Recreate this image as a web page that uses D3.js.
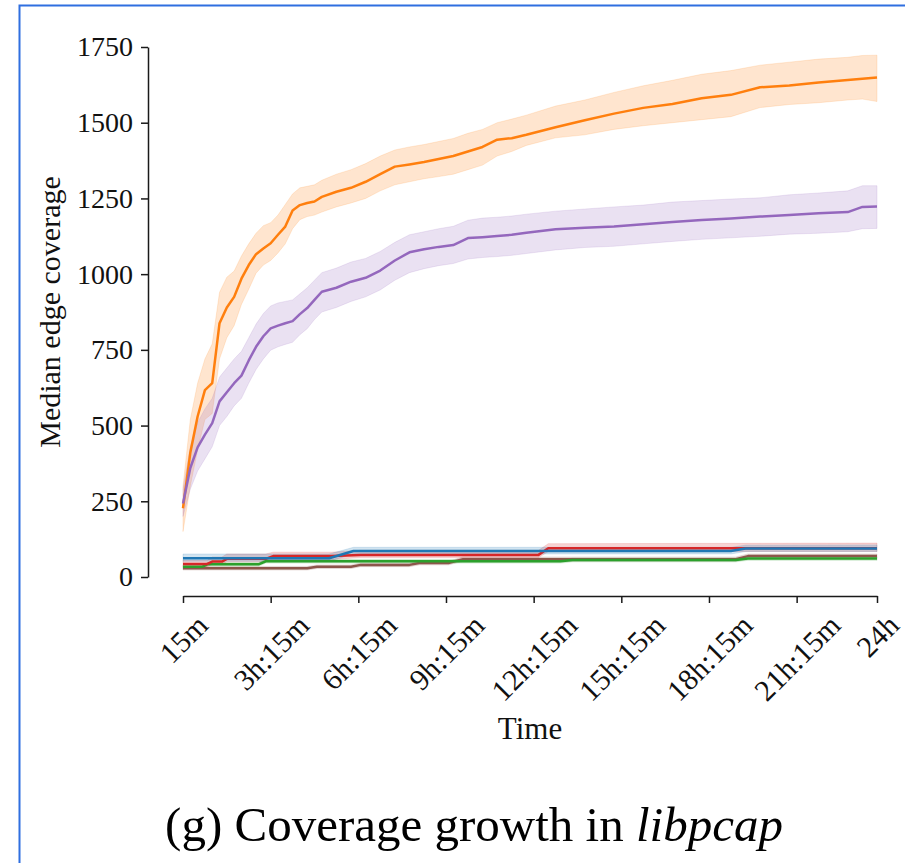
<!DOCTYPE html>
<html>
<head>
<meta charset="utf-8">
<script src="https://cdn.jsdelivr.net/npm/d3@7"></script>
<style>
    html, body { margin: 0; padding: 0; background: #fff; }
    #chart svg { display: block; }
</style>
</head>
<body>
<div id="chart"></div>
<script>
// time grid (minutes since start) for the two big series
var times = [15, 30, 45, 60, 75, 90, 105, 120, 135, 150, 165, 180, 195, 210, 225, 240, 255, 270, 285, 300,
    330, 360, 390, 420, 450, 480, 510, 540, 570, 600, 630, 660, 690, 720, 780, 840, 900, 960, 1020, 1080,
    1140, 1200, 1260, 1320, 1380, 1410, 1440];

var orangeMed = [227, 410, 530, 617, 640, 838, 890, 925, 985, 1030, 1066, 1085, 1102, 1130, 1157, 1210, 1228, 1235, 1240, 1255,
    1272, 1285, 1305, 1330, 1355, 1362, 1370, 1380, 1390, 1405, 1420, 1444, 1449, 1460, 1485, 1508, 1530, 1549, 1562, 1581,
    1592, 1617, 1623, 1633, 1641, 1645, 1649];
var orangeHi = [300, 520, 640, 720, 770, 940, 990, 1010, 1060, 1100, 1135, 1160, 1170, 1195, 1230, 1265, 1285, 1290, 1295, 1310,
    1330, 1345, 1365, 1390, 1410, 1420, 1428, 1438, 1448, 1465, 1478, 1500, 1512, 1525, 1555, 1575, 1600, 1622, 1640, 1660,
    1672, 1690, 1700, 1710, 1716, 1722, 1723];
var orangeLo = [150, 300, 420, 520, 540, 720, 790, 830, 900, 950, 1003, 1030, 1045, 1070, 1100, 1150, 1180, 1190, 1195, 1205,
    1222, 1235, 1250, 1275, 1295, 1305, 1315, 1322, 1330, 1345, 1360, 1390, 1405, 1425, 1450, 1460, 1478, 1490, 1500, 1510,
    1520, 1550, 1560, 1566, 1575, 1578, 1570];

var purpleMed = [243, 360, 428, 470, 508, 580, 610, 640, 665, 715, 760, 795, 821, 830, 838, 845, 868, 888, 915, 942,
    955, 975, 988, 1012, 1045, 1072, 1082, 1090, 1096, 1119, 1122, 1126, 1130, 1137, 1148, 1153, 1157, 1165, 1172, 1179,
    1184, 1190, 1195, 1201, 1205, 1222, 1223];
var purpleHi = [290, 430, 510, 555, 590, 660, 690, 720, 745, 790, 835, 870, 895, 905, 910, 915, 935, 955, 980, 1005,
    1020, 1040, 1052, 1075, 1105, 1130, 1140, 1150, 1158, 1178, 1185, 1188, 1192, 1198, 1208, 1215, 1222, 1228, 1238, 1243,
    1248, 1252, 1262, 1268, 1275, 1292, 1292];
var purpleLo = [200, 290, 350, 390, 430, 500, 530, 565, 590, 640, 685, 720, 749, 760, 768, 775, 800, 820, 850, 875,
    890, 910, 925, 948, 980, 1005, 1018, 1028, 1035, 1050, 1055, 1058, 1062, 1068, 1080, 1088, 1092, 1100, 1108, 1115,
    1120, 1125, 1132, 1135, 1140, 1150, 1151];

// step-like low series, each with its own change points
var blueT = [15, 315, 365, 1140, 1170, 1440];
var blueMed = [62, 62, 86, 86, 94, 94];
var blueHi = [76, 76, 98, 98, 105, 106];
var blueLo = [52, 52, 76, 76, 84, 84];

var redT = [15, 65, 75, 95, 105, 185, 200, 320, 380, 745, 765, 1440];
var redMed = [43, 43, 51, 51, 60, 60, 69, 69, 73, 73, 95, 95];
var redHi = [55, 55, 66, 66, 76, 76, 82, 82, 88, 88, 110, 112];
var redLo = [34, 34, 42, 42, 50, 50, 58, 58, 64, 64, 84, 84];

var greenT = [15, 55, 65, 170, 185, 790, 815, 1150, 1175, 1440];
var greenMed = [34, 34, 42, 42, 52, 52, 56, 56, 61, 61];
var greenHi = [40, 40, 48, 48, 58, 58, 62, 62, 67, 67];
var greenLo = [28, 28, 36, 36, 46, 46, 50, 50, 55, 55];

var brownT = [15, 270, 290, 360, 380, 480, 500, 560, 590, 1150, 1175, 1440];
var brownMed = [29, 29, 34, 34, 40, 40, 46, 46, 59, 59, 69, 69];
var brownHi = [35, 35, 40, 40, 46, 46, 52, 52, 66, 66, 76, 76];
var brownLo = [23, 23, 28, 28, 34, 34, 40, 40, 52, 52, 62, 62];

var xTickValues = [15, 195, 375, 555, 735, 915, 1095, 1275, 1440];
var xTickLabels = ["15m", "3h:15m", "6h:15m", "9h:15m", "12h:15m", "15h:15m", "18h:15m", "21h:15m", "24h"];
var yTickValues = [0, 250, 500, 750, 1000, 1250, 1500, 1750];

(function(d3) {

    "use strict";

    var W = 905, H = 863;
    var serif = "'Liberation Serif', 'DejaVu Serif', serif";

    var svg = d3.select("#chart").append("svg")
        .attr("width", W)
        .attr("height", H);

    // blue frame around the figure (only left and top edges show)
    svg.append("rect")
        .attr("x", 19.5).attr("y", 5.5)
        .attr("width", 1000).attr("height", 1000)
        .attr("fill", "none")
        .attr("stroke", "#2f6fe0")
        .attr("stroke-width", 2);

    var x = d3.scaleLinear().domain([15, 1440]).range([183, 877]);
    var y = d3.scaleLinear().domain([0, 1750]).range([577, 47]);

    function pack(t, med, lo, hi) {
        return t.map(function(tt, i) { return { t: tt, m: med[i], lo: lo[i], hi: hi[i] }; });
    }

    var series = [
        { color: "#ff7f0e", data: pack(times, orangeMed, orangeLo, orangeHi) },
        { color: "#9467bd", data: pack(times, purpleMed, purpleLo, purpleHi) },
        { color: "#8c564b", data: pack(brownT, brownMed, brownLo, brownHi) },
        { color: "#2ca02c", data: pack(greenT, greenMed, greenLo, greenHi) },
        { color: "#d62728", data: pack(redT, redMed, redLo, redHi) },
        { color: "#1f77b4", data: pack(blueT, blueMed, blueLo, blueHi) }
    ];

    var area = d3.area()
        .x(function(d) { return x(d.t); })
        .y0(function(d) { return y(d.lo); })
        .y1(function(d) { return y(d.hi); });

    var line = d3.line()
        .x(function(d) { return x(d.t); })
        .y(function(d) { return y(d.m); });

    svg.append("g").selectAll("path")
        .data(series)
        .enter()
        .append("path")
        .attr("d", function(s) { return area(s.data); })
        .attr("fill", function(s) { return s.color; })
        .attr("fill-opacity", 0.2)
        .attr("stroke", function(s) { return s.color; })
        .attr("stroke-opacity", 0.15)
        .attr("stroke-width", 1);

    svg.append("g").selectAll("path")
        .data(series)
        .enter()
        .append("path")
        .attr("d", function(s) { return line(s.data); })
        .attr("fill", "none")
        .attr("stroke", function(s) { return s.color; })
        .attr("stroke-width", 2.5)
        .attr("stroke-linejoin", "round");

    // axes, despined and offset like seaborn
    var yAxis = svg.append("g")
        .attr("transform", "translate(148,0)")
        .call(d3.axisLeft(y).tickValues(yTickValues).tickSize(7).tickSizeOuter(0).tickPadding(8)
            .tickFormat(d3.format("d")));

    var xAxis = svg.append("g")
        .attr("transform", "translate(0,596)")
        .call(d3.axisBottom(x).tickValues(xTickValues).tickSize(7).tickSizeOuter(0)
            .tickFormat(function(d, i) { return xTickLabels[i]; }));

    [yAxis, xAxis].forEach(function(ax) {
        ax.selectAll("path, line").attr("stroke", "#1a1a1a").attr("stroke-width", 1.5);
        ax.selectAll("text")
            .attr("fill", "#111")
            .style("font-family", serif);
    });

    yAxis.selectAll("text").style("font-size", "28px");

    // rotated labels centred under the tick, top of their box just below it
    xAxis.selectAll("text")
        .style("font-size", "30px")
        .attr("text-anchor", "middle")
        .attr("dominant-baseline", "central")
        .attr("dy", null)
        .attr("y", null)
        .attr("transform", function() {
            var w = this.getComputedTextLength();
            var half = (w + 22) * Math.SQRT1_2 / 2;
            return "translate(0," + (16 + half) + ") rotate(-45)";
        });

    svg.append("text")
        .attr("transform", "translate(60,312) rotate(-90)")
        .attr("text-anchor", "middle")
        .style("font-family", serif)
        .style("font-size", "30px")
        .attr("fill", "#111")
        .text("Median edge coverage");

    svg.append("text")
        .attr("x", 530).attr("y", 739)
        .attr("text-anchor", "middle")
        .style("font-family", serif)
        .style("font-size", "31px")
        .attr("fill", "#111")
        .text("Time");

    var caption = svg.append("text")
        .attr("x", 474).attr("y", 841)
        .attr("text-anchor", "middle")
        .style("font-family", serif)
        .style("font-size", "49px")
        .attr("fill", "#000");
    caption.append("tspan").text("(g) Coverage growth in ");
    caption.append("tspan").style("font-style", "italic").text("libpcap");

})(d3);
</script>
</body>
</html>
